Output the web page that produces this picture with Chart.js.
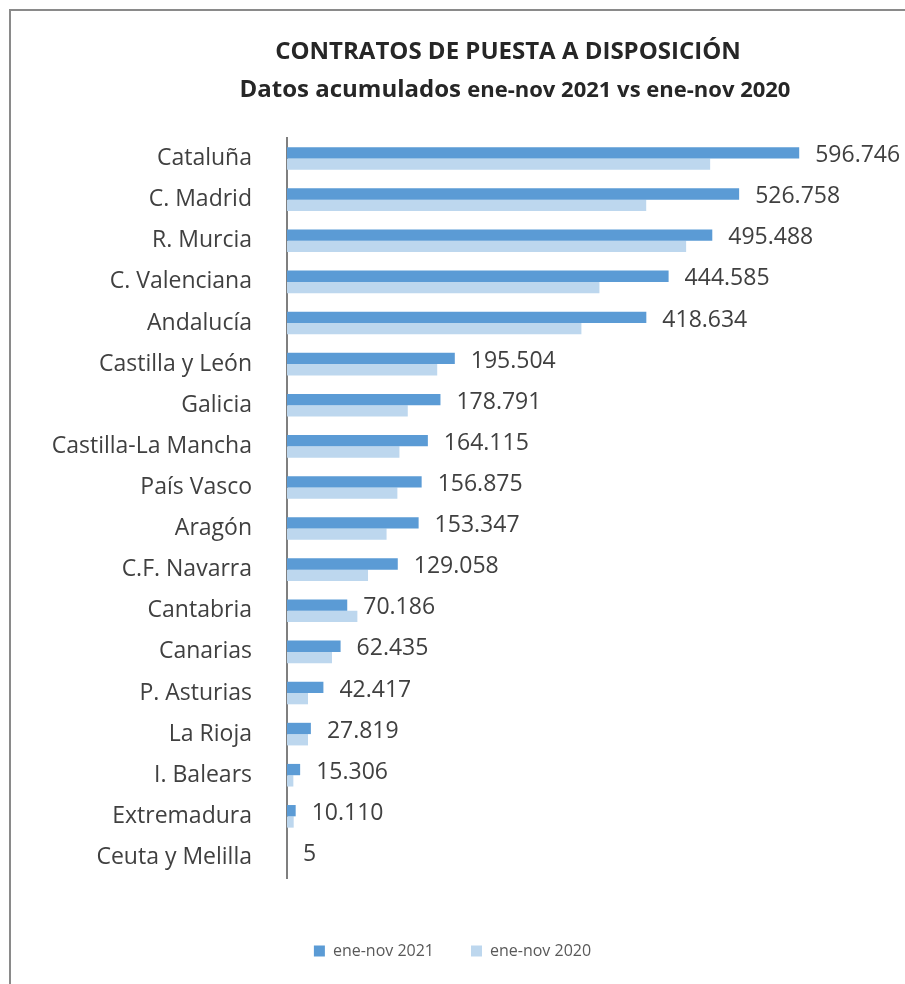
<!DOCTYPE html>
<html>
<head>
<meta charset="utf-8">
<script src="https://cdn.jsdelivr.net/npm/chart.js@4"></script>
<style>
  body { margin: 0; background: #fff; overflow: hidden; }
  #wrap { position: absolute; left: 0; top: 0; width: 905px; height: 984px; }
  #frame { position: absolute; left: 9px; top: 9px; width: 1000px; height: 1000px; border: 2px solid #8a8a8a; pointer-events: none; }
</style>
</head>
<body>
<div id="wrap"><canvas id="chart" width="905" height="984"></canvas></div>
<div id="frame"></div>
<script>
const regions = ['Cataluña', 'C. Madrid', 'R. Murcia', 'C. Valenciana', 'Andalucía', 'Castilla y León',
    'Galicia', 'Castilla-La Mancha', 'País Vasco', 'Aragón', 'C.F. Navarra', 'Cantabria', 'Canarias',
    'P. Asturias', 'La Rioja', 'I. Balears', 'Extremadura', 'Ceuta y Melilla'];
const values2021 = [596746, 526758, 495488, 444585, 418634, 195504, 178791, 164115, 156875, 153347,
    129058, 70186, 62435, 42417, 27819, 15306, 10110, 5];
const values2020 = [493000, 418500, 465000, 364000, 343000, 175000, 140700, 131000, 128600, 116000,
    94400, 82000, 52400, 24500, 24500, 7400, 7800, 3];
const seriesNames = ['ene-nov 2021', 'ene-nov 2020'];
const titleText = 'CONTRATOS DE PUESTA A DISPOSICIÓN';
const subtitleBold = 'Datos acumulados ';
const subtitleRest = 'ene-nov 2021 vs ene-nov 2020';

const FONT = '"Open Sans", "Noto Sans", sans-serif';

function formatNum(n) {
    return String(n).replace(/\B(?=(\d{3})+(?!\d))/g, '.');
}

// title and subtitle drawn on the canvas (subtitle mixes two sizes)
const titlePlugin = {
    id: 'titles',
    afterDraw(chart) {
        const ctx = chart.ctx;
        ctx.save();
        ctx.fillStyle = '#262626';
        ctx.textBaseline = 'middle';
        ctx.textAlign = 'center';
        ctx.font = 'bold 24px ' + FONT;
        ctx.fillText(titleText, 508, 52);

        ctx.font = 'bold 24px ' + FONT;
        const w1 = ctx.measureText(subtitleBold).width;
        ctx.font = 'bold 22px ' + FONT;
        const w2 = ctx.measureText(subtitleRest).width;
        const start = 515 - (w1 + w2) / 2;
        ctx.textAlign = 'left';
        ctx.font = 'bold 24px ' + FONT;
        ctx.fillText(subtitleBold, start, 90);
        ctx.font = 'bold 22px ' + FONT;
        ctx.fillText(subtitleRest, start + w1, 91);
        ctx.restore();
    }
};

// value labels next to the 2021 bars
const valueLabels = {
    id: 'valueLabels',
    afterDatasetsDraw(chart) {
        const ctx = chart.ctx;
        const meta = chart.getDatasetMeta(0);
        const yScale = chart.scales.y;
        ctx.save();
        ctx.font = '23px ' + FONT;
        ctx.fillStyle = '#404040';
        ctx.textAlign = 'left';
        ctx.textBaseline = 'middle';
        meta.data.forEach((bar, i) => {
            ctx.fillText(formatNum(values2021[i]), bar.x + 16, yScale.getPixelForValue(i) - 3);
        });
        ctx.restore();
    }
};

new Chart(document.getElementById('chart'), {
    type: 'bar',
    data: {
        labels: regions,
        datasets: [{
            label: seriesNames[0],
            data: values2021,
            backgroundColor: '#5b9bd5',
            categoryPercentage: 0.55,
            barPercentage: 1
        }, {
            label: seriesNames[1],
            data: values2020,
            backgroundColor: '#bdd7ee',
            categoryPercentage: 0.55,
            barPercentage: 1
        }]
    },
    options: {
        indexAxis: 'y',
        responsive: false,
        animation: false,
        layout: { padding: { top: 138, left: 0, right: 0, bottom: 15 } },
        scales: {
            x: {
                min: 0,
                max: 720000,
                grid: { display: false },
                border: { display: false },
                ticks: { display: false },
                afterFit: s => { s.height = 28; }
            },
            y: {
                grid: { display: false },
                border: { display: true, color: '#7f7f7f', width: 2 },
                ticks: { color: '#404040', font: { family: FONT, size: 23 }, padding: 27 },
                afterFit: s => { s.width = 287; }
            }
        },
        plugins: {
            legend: {
                position: 'bottom',
                maxHeight: 80,
                labels: {
                    boxWidth: 11,
                    boxHeight: 11,
                    padding: 37,
                    color: '#595959',
                    font: { family: FONT, size: 16 }
                }
            },
            tooltip: { enabled: false }
        }
    },
    plugins: [titlePlugin, valueLabels]
});
</script>
</body>
</html>
